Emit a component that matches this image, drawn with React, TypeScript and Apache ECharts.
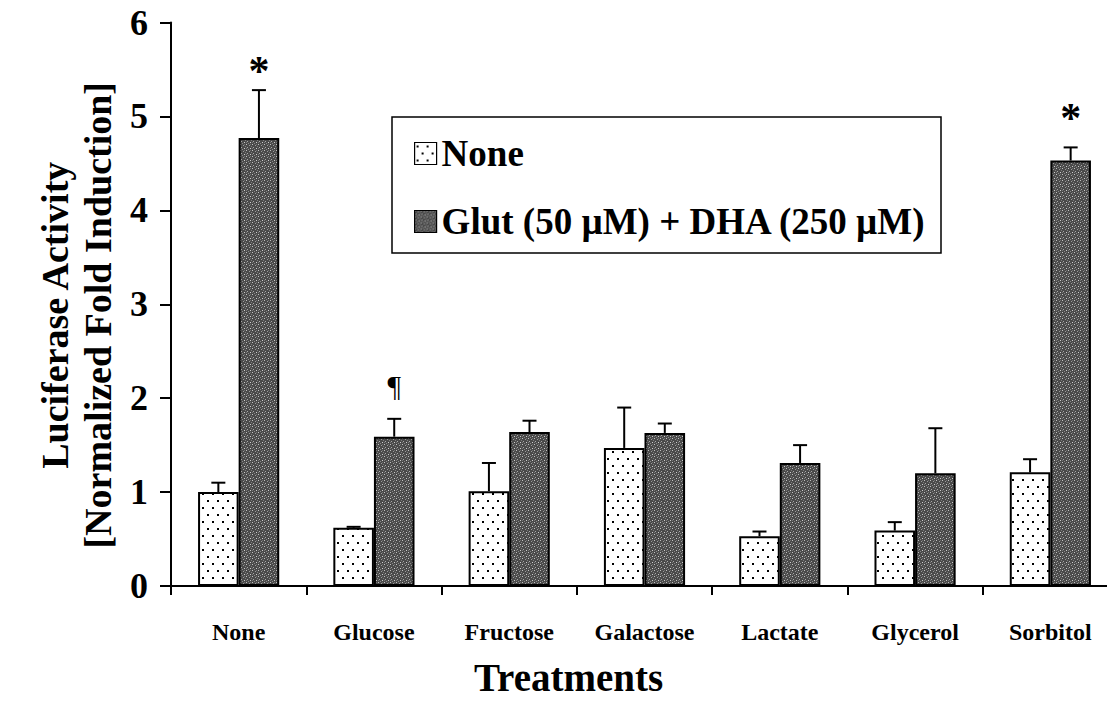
import React, { useEffect, useRef } from "react";
import * as echarts from "echarts";

const categories = ["None", "Glucose", "Fructose", "Galactose", "Lactate", "Glycerol", "Sorbitol"];
const seriesNames = ["None", "Glut (50 \u00b5M) + DHA (250 \u00b5M)"];
const noneValues = [1.0, 0.62, 1.01, 1.47, 0.53, 0.59, 1.21];
const noneUpper = [1.1, 0.63, 1.31, 1.9, 0.58, 0.68, 1.35];
const glutValues = [4.77, 1.59, 1.64, 1.63, 1.31, 1.2, 4.53];
const glutUpper = [5.28, 1.78, 1.76, 1.73, 1.5, 1.68, 4.67];
const yTicks = [0, 1, 2, 3, 4, 5, 6];
const annotations = [
  { cat: 0, series: 1, y: 5.55, text: "*" },
  { cat: 1, series: 1, y: 2.13, text: "\u00b6" },
  { cat: 6, series: 1, y: 5.05, text: "*" },
];

const FONT = "'Liberation Serif', 'Times New Roman', serif";
const GAP = 0.4;

function makeDotPattern() {
  const c = document.createElement("canvas");
  c.width = 10;
  c.height = 14;
  const ctx = c.getContext("2d")!;
  ctx.fillStyle = "#ffffff";
  ctx.fillRect(0, 0, 10, 14);
  ctx.fillStyle = "#000000";
  ctx.fillRect(2, 3, 2, 2);
  ctx.fillRect(7, 10, 2, 2);
  return c;
}

function makeStipplePattern() {
  const c = document.createElement("canvas");
  c.width = 6;
  c.height = 6;
  const ctx = c.getContext("2d")!;
  ctx.fillStyle = "#4a4a4a";
  ctx.fillRect(0, 0, 6, 6);
  const light: [number, number, string][] = [
    [0, 0, "#c0c0c0"], [3, 1, "#9a9a9a"], [1, 3, "#a8a8a8"], [4, 4, "#cccccc"],
    [5, 2, "#808080"], [2, 5, "#8a8a8a"], [4, 0, "#707070"], [0, 4, "#777777"],
  ];
  for (const [x, y, col] of light) {
    ctx.fillStyle = col;
    ctx.fillRect(x, y, 1, 1);
  }
  return c;
}

export default function App() {
  const ref = useRef<HTMLDivElement>(null);
  useEffect(() => {
    if (!ref.current) return;
    const chart = echarts.init(ref.current, null, { renderer: "svg" });
    const dot = makeDotPattern();
    const stip = makeStipplePattern();
    const dotFill: any = { image: dot, repeat: "repeat", imageWidth: 10, imageHeight: 14 };
    const stipFill: any = { image: stip, repeat: "repeat", imageWidth: 6, imageHeight: 6 };

    const errData: any[] = [];
    categories.forEach((_, i) => {
      errData.push([i, noneValues[i], noneUpper[i], 0]);
      errData.push([i, glutValues[i], glutUpper[i], 1]);
    });

    const offsetFor = (api: any, s: number) => {
      const band = api.size([1, 0])[0];
      const barW = (band * (1 - GAP)) / 2;
      return s === 0 ? -barW / 2 : barW / 2;
    };

    const option: any = {
      animation: false,
      backgroundColor: "#ffffff",
      grid: { left: 171, top: 22.5, bottom: 118, right: 12 },
      legend: {
        orient: "vertical",
        left: 414,
        top: 135,
        padding: 0,
        itemWidth: 22,
        itemHeight: 22,
        itemGap: 31,
        icon: "rect",
        selectedMode: false,
        data: seriesNames,
        textStyle: { fontFamily: FONT, fontWeight: "bold", fontSize: 37, color: "#000" },
        itemStyle: { borderColor: "#000", borderWidth: 1.2 },
      },
      graphic: [
        {
          type: "rect",
          shape: { x: 392, y: 117, width: 549, height: 136 },
          style: { fill: "none", stroke: "#000", lineWidth: 1.5 },
          z: 10,
        },
      ],
      xAxis: {
        type: "category",
        data: categories,
        axisLine: { lineStyle: { color: "#000", width: 2 } },
        axisTick: { show: true, interval: 0, length: 9, lineStyle: { color: "#000", width: 2 } },
        axisLabel: { interval: 0, fontFamily: FONT, fontWeight: "bold", fontSize: 24, color: "#000", margin: 34 },
        name: "Treatments",
        nameLocation: "middle",
        nameGap: 72,
        nameTextStyle: {
          fontFamily: FONT, fontWeight: "bold", fontSize: 39, color: "#000",
          padding: [0, 152, 0, 0],
        },
      },
      yAxis: {
        type: "value",
        min: yTicks[0],
        max: yTicks[yTicks.length - 1],
        interval: 1,
        splitLine: { show: false },
        axisLine: { show: true, lineStyle: { color: "#000", width: 2 } },
        axisTick: { show: true, length: 11, lineStyle: { color: "#000", width: 2 } },
        axisLabel: { fontFamily: FONT, fontWeight: "bold", fontSize: 36, color: "#000", margin: 23 },
        name: "Luciferase Activity\n[Normalized Fold Induction]",
        nameLocation: "middle",
        nameRotate: 90,
        nameGap: 38,
        nameTextStyle: {
          fontFamily: FONT, fontWeight: "bold", fontSize: 38, color: "#000", lineHeight: 43,
          padding: [0, 22, 0, 0],
        },
      },
      series: [
        {
          name: seriesNames[0],
          type: "bar",
          data: noneValues,
          barGap: "0%",
          barCategoryGap: GAP * 100 + "%",
          itemStyle: { color: dotFill, borderColor: "#000", borderWidth: 2 },
        },
        {
          name: seriesNames[1],
          type: "bar",
          data: glutValues,
          barGap: "0%",
          barCategoryGap: GAP * 100 + "%",
          itemStyle: { color: stipFill, borderColor: "#000", borderWidth: 2 },
        },
        {
          type: "custom",
          data: errData,
          z: 5,
          renderItem: (params: any, api: any) => {
            const i = api.value(0);
            const s = api.value(3);
            const base = api.coord([i, api.value(1)]);
            const top = api.coord([i, api.value(2)]);
            const x = base[0] + offsetFor(api, s);
            const cap = 7;
            return {
              type: "group",
              children: [
                { type: "line", shape: { x1: x, y1: base[1], x2: x, y2: top[1] }, style: { stroke: "#000", lineWidth: 2 } },
                { type: "line", shape: { x1: x - cap, y1: top[1], x2: x + cap, y2: top[1] }, style: { stroke: "#000", lineWidth: 2 } },
              ],
            };
          },
        },
        {
          type: "custom",
          data: annotations.map((a) => [a.cat, a.y, a.series]),
          z: 6,
          renderItem: (params: any, api: any) => {
            const i = api.value(0);
            const s = api.value(2);
            const p = api.coord([i, api.value(1)]);
            const a = annotations[params.dataIndex];
            const isStar = a.text === "*";
            return {
              type: "text",
              style: {
                text: a.text,
                x: p[0] + offsetFor(api, s),
                y: p[1] + (isStar ? 6 : 0),
                align: "center",
                verticalAlign: "middle",
                font: (isStar ? "bold 42px " : "30px ") + FONT,
                fill: "#000",
              },
            };
          },
        },
      ],
    };
    chart.setOption(option);
    return () => chart.dispose();
  }, []);
  return (
    <div style={{ position: "fixed", left: 0, top: 0, width: 1107, height: 704, overflow: "hidden", background: "#fff" }}>
      <div ref={ref} style={{ width: 1130, height: 704 }} />
    </div>
  );
}
